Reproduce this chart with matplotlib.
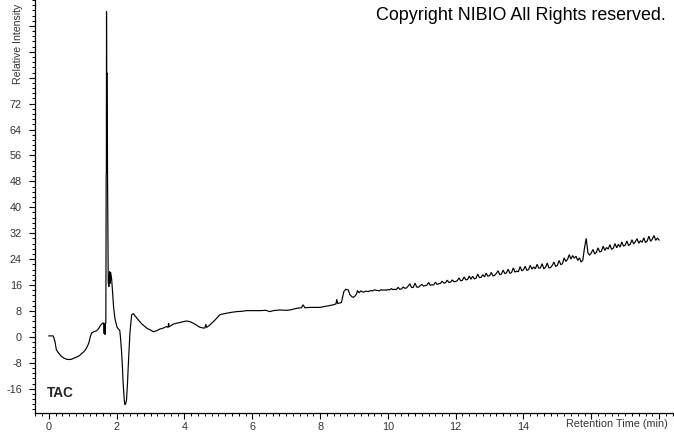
import numpy as np
import matplotlib
matplotlib.use("Agg")
import matplotlib.pyplot as plt
from matplotlib.ticker import MultipleLocator, FixedLocator

plt.rcParams['font.family'] = ['Liberation Sans', 'DejaVu Sans']

# ---- data: early part of the chromatogram (retention time in min, relative intensity)
early_time = [0.00, 0.13, 0.18, 0.22, 0.30, 0.37, 0.45, 0.52, 0.60, 0.67, 0.75, 0.81, 0.90, 0.96,
              1.03, 1.09, 1.15, 1.19, 1.22, 1.26, 1.33, 1.41, 1.47, 1.52, 1.57, 1.60, 1.62, 1.63,
              1.64, 1.655, 1.665, 1.68, 1.69, 1.695, 1.70, 1.705, 1.72, 1.73, 1.75, 1.77, 1.79,
              1.81, 1.82, 1.85, 1.88, 1.91, 1.95, 2.01, 2.06, 2.09, 2.11, 2.14, 2.17, 2.19, 2.22,
              2.24, 2.27, 2.29, 2.32, 2.34, 2.37, 2.39, 2.42, 2.44, 2.49, 2.54, 2.61, 2.68, 2.75,
              2.83, 2.90, 2.98, 3.08, 3.18, 3.27, 3.37, 3.47, 3.52, 3.53, 3.55, 3.66, 3.76, 3.86,
              3.96, 4.06, 4.16, 4.26, 4.36, 4.45, 4.52, 4.60, 4.63, 4.65, 4.75, 4.82, 4.90, 4.97,
              5.04, 5.14, 5.24, 5.40, 5.54, 5.70, 5.83, 6.00, 6.22, 6.40, 6.52, 6.62, 6.81, 7.00,
              7.11, 7.30, 7.45, 7.50, 7.55, 7.70, 7.99, 8.20, 8.39, 8.47, 8.49, 8.52, 8.63, 8.67,
              8.70, 8.76, 8.83, 8.88, 8.94, 8.98, 9.04, 9.08, 9.10, 9.15, 9.20, 9.27, 9.35, 9.42]
early_intensity = [0.3, 0.3, -1.5, -4.0, -5.2, -6.0, -6.6, -6.9, -7.0, -6.9, -6.5, -6.3, -5.8, -5.2,
                   -4.6, -3.8, -2.6, -1.4, 0.0, 1.2, 1.6, 1.9, 2.6, 3.5, 4.1, 4.3, 4.2, 1.0,
                   4.0, 0.7, 4.2, 4.3, 50.0, 50.5, 100.5, 81.0, 81.5, 50.0, 17.0, 15.5, 20.3,
                   16.5, 20.0, 18.0, 13.5, 9.0, 5.5, 3.0, 2.3, 2.0, 0.0, -4.0, -9.5, -14.3, -19.0,
                   -21.0, -20.5, -19.4, -14.0, -9.2, -3.0, 1.2, 4.5, 6.8, 7.2, 6.5, 5.6, 4.7, 3.9,
                   3.2, 2.6, 2.2, 1.6, 1.9, 2.4, 2.7, 3.2, 2.9, 4.2, 3.1, 3.9, 4.2, 4.4,
                   4.7, 4.9, 4.7, 4.2, 3.6, 3.0, 2.8, 2.7, 3.9, 2.9, 3.7, 4.4, 5.2, 6.0,
                   6.8, 7.1, 7.3, 7.6, 7.8, 7.9, 8.1, 8.1, 8.1, 8.2, 7.8, 8.1, 8.3, 8.2,
                   8.3, 8.8, 9.0, 9.9, 9.0, 9.1, 9.1, 9.5, 9.9, 10.2, 11.6, 10.3, 10.6, 12.5,
                   14.0, 14.7, 14.5, 13.0, 12.4, 12.2, 12.7, 13.4, 14.3, 13.6, 14.2, 13.8, 14.1, 14.0]

# ---- data: later part, sampled every 0.05 min from 9.50 to 18.00 min
late_start, late_step = 9.50, 0.05
late_intensity = [
    14.3, 14.2, 14.5, 14.4, 14.3, 14.2, 14.6, 14.4, 14.5, 14.4,
    14.6, 14.5, 14.9, 14.6, 14.7, 14.6, 15.3, 14.7, 14.8, 15.4,
    15.0, 15.1, 15.7, 16.4, 15.2, 15.3, 16.6, 15.4, 15.3, 15.8,
    16.2, 15.7, 15.8, 16.0, 16.8, 15.9, 16.1, 16.0, 16.9, 16.2,
    16.4, 16.5, 17.2, 16.6, 16.7, 17.5, 16.8, 16.9, 17.6, 17.0,
    17.1, 17.4, 18.2, 17.3, 17.5, 18.5, 17.6, 17.7, 18.8, 17.8,
    18.7, 17.9, 18.1, 19.4, 18.3, 18.4, 19.2, 18.5, 19.7, 18.7,
    18.9, 19.9, 18.8, 19.0, 19.6, 20.4, 19.2, 19.4, 20.6, 19.5,
    19.8, 20.9, 19.6, 19.9, 21.3, 20.0, 20.3, 20.1, 21.7, 20.4,
    20.7, 21.8, 20.5, 20.8, 22.1, 20.9, 21.6, 21.0, 22.4, 21.2,
    21.3, 22.6, 21.0, 21.5, 22.8, 21.3, 21.4, 22.1, 23.1, 21.7,
    22.1, 23.6, 22.3, 22.6, 24.4, 23.3, 23.9, 25.4, 24.0, 25.1,
    24.3, 24.9, 23.6, 24.4, 23.1, 23.7, 27.5, 30.4, 26.0, 25.2,
    25.9, 27.0, 25.6, 26.1, 27.5, 26.2, 26.5, 28.0, 26.7, 27.6,
    27.1, 28.5, 27.0, 27.4, 28.8, 27.5, 28.6, 27.7, 29.3, 28.0,
    28.3, 29.6, 28.2, 28.6, 30.0, 28.7, 29.4, 30.3, 28.9, 29.7,
    29.2, 30.6, 29.1, 29.6, 31.1, 29.5, 30.2, 31.3, 29.8, 30.5,
    29.9,
]

y_tick_labels = ['-16', '-8', '0', '8', '16', '24', '32', '40', '48', '56', '64', '72']
x_tick_labels = ['0', '2', '4', '6', '8', '10', '12', '14']

late_time = late_start + late_step * np.arange(len(late_intensity))
time = np.concatenate([early_time, late_time])
intensity = np.concatenate([early_intensity, late_intensity])

W, H = 674, 434
fig = plt.figure(figsize=(W / 100, H / 100), dpi=100)
ax = fig.add_axes([35 / W, (H - 413) / H, 1 - 35 / W, 413 / H])
ax.plot(time, intensity, color='black', lw=0.85, solid_joinstyle='miter')

ax.set_xlim(-0.41, 18.44)
ax.set_ylim(-23.5, 104.0)

for s in ['top', 'right']:
    ax.spines[s].set_visible(False)
for s in ['left', 'bottom']:
    ax.spines[s].set_linewidth(0.9)

tick_col = '#333333'
# y ticks
y_major = [float(v) for v in y_tick_labels] + [80, 88, 96]
ax.yaxis.set_major_locator(FixedLocator(y_major))
ax.set_yticklabels(y_tick_labels + ['', '', ''])
ax.yaxis.set_minor_locator(MultipleLocator(1.6))
# x ticks
x_major = [float(v) for v in x_tick_labels] + [16, 18]
ax.xaxis.set_major_locator(FixedLocator(x_major))
ax.set_xticklabels(x_tick_labels + ['', ''])
ax.xaxis.set_minor_locator(MultipleLocator(0.2))

ax.tick_params(which='major', direction='out', length=4.5, width=0.8, color='black',
               labelsize=7.8, labelcolor=tick_col)
ax.tick_params(which='minor', direction='out', length=2.5, width=0.7, color='black')
ax.tick_params(axis='y', which='major', pad=5)
ax.tick_params(axis='x', which='major', pad=2)

fig.text(18 / W, 1 - 84 / H, 'Relative Intensity', rotation=90, ha='center', va='bottom',
         fontsize=7.6, color=tick_col)
fig.text(668 / W, 1 - 424 / H, 'Retention Time (min)', ha='right', va='center',
         fontsize=7.8, color=tick_col)
fig.text(47 / W, 1 - 393 / H, 'TAC', ha='left', va='center', fontsize=9.8,
         fontweight='bold', color='#222222')
fig.text(666 / W, 1 - 15 / H, 'Copyright NIBIO All Rights reserved.', ha='right',
         va='center', fontsize=12.9, color='black')

fig.savefig('out.png', dpi=100)
